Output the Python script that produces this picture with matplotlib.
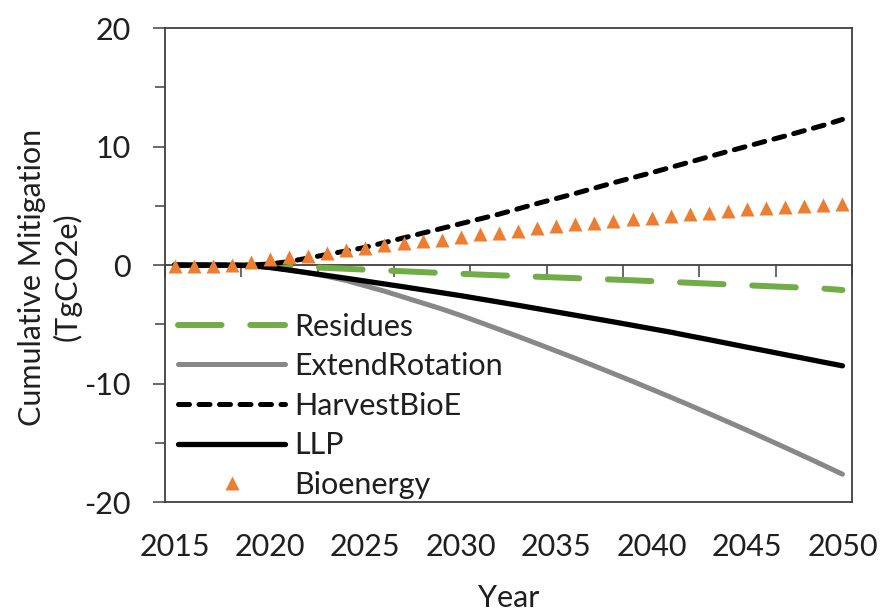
import numpy as np
import matplotlib
matplotlib.use('Agg')
import matplotlib.pyplot as plt

# cumulative mitigation (TgCO2e) per year
years = list(range(2015, 2051))

residues = [0, 0, 0, 0, 0, -0.03, -0.1, -0.17, -0.24, -0.31,
            -0.38, -0.45, -0.52, -0.59, -0.66, -0.73, -0.8, -0.86, -0.92, -0.98,
            -1.04, -1.1, -1.16, -1.22, -1.28, -1.35, -1.42, -1.49, -1.56, -1.63,
            -1.7, -1.77, -1.84, -1.91, -1.98, -2.1]

extend_rotation = [0, 0, 0, 0, -0.05, -0.2, -0.4, -0.65, -0.95, -1.3,
                   -1.75, -2.2, -2.7, -3.2, -3.7, -4.25, -4.83, -5.42, -6.02, -6.63,
                   -7.25, -7.87, -8.51, -9.16, -9.81, -10.48, -11.15, -11.83, -12.53, -13.23,
                   -13.94, -14.67, -15.4, -16.14, -16.89, -17.65]

harvest_bioe = [0, 0, 0, 0, 0, 0.1, 0.3, 0.6, 0.9, 1.2,
                1.5, 1.9, 2.3, 2.7, 3.1, 3.5, 3.9, 4.3, 4.75, 5.2,
                5.62, 6.05, 6.5, 6.95, 7.38, 7.8, 8.25, 8.7, 9.15, 9.6,
                10.03, 10.47, 10.9, 11.35, 11.8, 12.3]

llp = [0, 0, 0, 0, -0.05, -0.2, -0.42, -0.65, -0.88, -1.11,
       -1.35, -1.59, -1.83, -2.08, -2.33, -2.58, -2.85, -3.12, -3.39, -3.67,
       -3.95, -4.23, -4.51, -4.79, -5.08, -5.37, -5.66, -5.98, -6.29, -6.61,
       -6.93, -7.24, -7.56, -7.87, -8.19, -8.5]

bioenergy = [-0.1, -0.1, -0.05, 0.05, 0.3, 0.5, 0.65, 0.8, 1.04, 1.27,
             1.46, 1.66, 1.83, 2.0, 2.11, 2.39, 2.59, 2.73, 2.9, 3.1,
             3.29, 3.46, 3.57, 3.74, 3.88, 4.02, 4.16, 4.3, 4.44, 4.58,
             4.7, 4.78, 4.87, 4.98, 5.06, 5.15]

label_years = [2015, 2020, 2025, 2030, 2035, 2040, 2045, 2050]

plt.rcParams['font.family'] = ['Lato', 'DejaVu Sans']
plt.rcParams['font.size'] = 22
plt.rcParams['axes.unicode_minus'] = False
text_col = '#1f1f1f'
axis_col = '#404040'

fig = plt.figure(figsize=(8.81, 6.13), dpi=100)
ax = fig.add_axes([0.1873, 0.181, 0.7798, 0.773])

ax.plot(years, residues, color='#70AD47', lw=4.3, dashes=(7.3, 4.8),
        dash_capstyle='round', label='Residues')
ax.plot(years, extend_rotation, color='#888888', lw=3.6,
        solid_capstyle='round', label='ExtendRotation')
ax.plot(years, llp, color='black', lw=3.8, solid_capstyle='round', label='LLP')
ax.plot(years, harvest_bioe, color='black', lw=3.6, dashes=(2.2, 1.9),
        dash_capstyle='round', label='HarvestBioE')
ax.plot(years, bioenergy, ls='none', marker='^', ms=10.5, color='#ED7D31',
        mec='none', label='Bioenergy')

ax.set_xlim(2014.5, 2050.5)
ax.set_ylim(-20, 20)

ax.set_xticks(label_years)
ax.set_xticklabels([str(y) for y in label_years])
ax.tick_params(axis='x', length=0, pad=22, colors=text_col, labelsize=22)
ax.set_yticks([-20, -10, 0, 10, 20])
ax.set_yticks([-15, -5, 5, 15], minor=True)
ax.tick_params(axis='y', which='major', length=8.5, width=1.1, color=axis_col,
               pad=16, labelcolor=text_col, labelsize=22)
ax.tick_params(axis='y', which='minor', length=7, width=1.1, color=axis_col)

for s in ax.spines.values():
    s.set_color(axis_col)
    s.set_linewidth(1.3)

# horizontal category axis crossing at zero, tick marks between categories
sec = ax.secondary_xaxis(0.5)
sec.set_alignment('bottom')
sec.set_xticks(np.arange(2014.5, 2051, 4))
sec.tick_params(axis='x', length=8.5, width=1.1, color=axis_col, labelbottom=False,
                labeltop=False, direction='out')
sec.spines['bottom'].set_color(axis_col)
sec.spines['bottom'].set_linewidth(1.3)
sec.spines['top'].set_visible(False)

ax.set_xlabel('Year', color=text_col, fontsize=22, labelpad=17)
ax.set_ylabel('Cumulative Mitigation\n(TgCO2e)', color=text_col, fontsize=22,
              linespacing=1.3)
ax.yaxis.set_label_coords(-0.121, 0.475)

handles, labels = ax.get_legend_handles_labels()
order = [0, 1, 3, 2, 4]
ax.legend([handles[i] for i in order], [labels[i] for i in order],
          loc='lower left', bbox_to_anchor=(0.015, 0.0), frameon=False,
          handlelength=3.5, handletextpad=0.3, labelspacing=0.38,
          borderaxespad=0.0, borderpad=0.1, fontsize=22, labelcolor=text_col)

fig.savefig('out.png', dpi=100)
